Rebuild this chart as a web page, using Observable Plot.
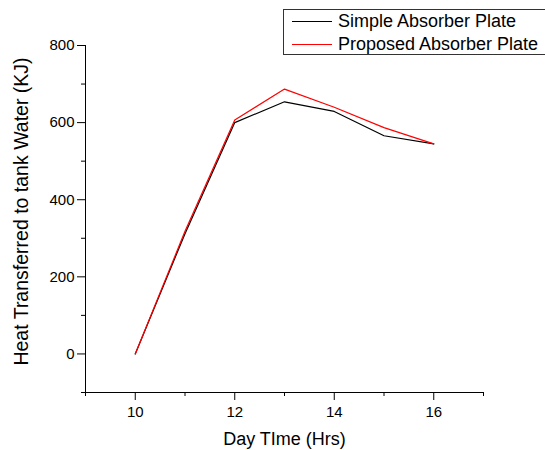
<!DOCTYPE html>
<html><head><meta charset="utf-8">
<script src="https://cdn.jsdelivr.net/npm/d3@7"></script>
<script src="https://cdn.jsdelivr.net/npm/@observablehq/plot@0.6"></script>
<style>
html,body{margin:0;padding:0;background:#fff;overflow:hidden;}
#wrap{position:relative;width:545px;height:450px;font-family:"Liberation Sans",Arial,sans-serif;}
#legend{position:absolute;left:283px;top:9px;width:280px;height:46px;border:1px solid #333;box-sizing:border-box;padding-top:0.5px;background:#fff;}
.row{display:flex;align-items:center;height:22.6px;font-size:18px;color:#000;}
.sw{display:inline-block;width:40px;height:1.2px;margin-left:8px;margin-right:6px;}
</style>
</head><body>
<div id="wrap"><div id="chart"></div><div id="legend"></div></div>
<script>
const hours = [10, 11, 12, 13, 14, 15, 16];
const simple = [0, 312, 600, 654, 629, 566, 545];
const proposed = [0, 318, 607, 687, 640, 587, 545];
const seriesNames = ["Simple Absorber Plate", "Proposed Absorber Plate"];
const seriesColors = ["#000000", "#ff0000"];
const xMajor = [10, 12, 14, 16];
const xMinor = [9, 11, 13, 15, 17];
const yMajor = [0, 200, 400, 600, 800];
const yMinor = [-100, 100, 300, 500, 700];
const xLabel = "Day TIme (Hrs)";
const yLabel = "Heat Transferred to tank Water (KJ)";

const data = [];
hours.forEach((h, i) => {
  data.push({hour: h, value: simple[i], series: seriesNames[0]});
});
hours.forEach((h, i) => {
  data.push({hour: h, value: proposed[i], series: seriesNames[1]});
});

const chart = Plot.plot({
  width: 545,
  height: 450,
  marginLeft: 85,
  marginRight: 62,
  marginTop: 45,
  marginBottom: 58,
  style: {fontFamily: '"Liberation Sans", Arial, sans-serif', fontSize: "15px", color: "#000", background: "#fff"},
  x: {domain: [9, 17], axis: null},
  y: {domain: [-100, 800], axis: null},
  color: {domain: seriesNames, range: seriesColors},
  marks: [
    Plot.axisX({ticks: xMajor, tickSize: 8, tickPadding: 6, label: null, fontSize: 15, stroke: "#000"}),
    Plot.axisX({ticks: xMinor, tickSize: 4, tickFormat: () => "", label: null, stroke: "#000"}),
    Plot.axisY({ticks: yMajor, tickSize: 8, tickPadding: 3, label: null, fontSize: 15, stroke: "#000"}),
    Plot.axisY({ticks: yMinor, tickSize: 4, tickFormat: () => "", label: null, stroke: "#000"}),
    Plot.frame({anchor: "left", stroke: "#000"}),
    Plot.frame({anchor: "bottom", stroke: "#000"}),
    Plot.line(data, {x: "hour", y: "value", z: "series", stroke: "series", strokeWidth: 1.2}),
    Plot.text([xLabel], {frameAnchor: "bottom", textAnchor: "middle", lineAnchor: "top", dy: 40, fontSize: 18, fill: "#000"}),
    Plot.text([yLabel], {frameAnchor: "left", textAnchor: "middle", lineAnchor: "middle", rotate: -90, dx: -64, dy: -7.5, fontSize: 19.5, fill: "#000"})
  ]
});
document.getElementById("chart").appendChild(chart);

const legend = document.getElementById("legend");
seriesNames.forEach((name, i) => {
  const row = document.createElement("div");
  row.className = "row";
  const sw = document.createElement("span");
  sw.className = "sw";
  sw.style.background = seriesColors[i];
  const t = document.createElement("span");
  t.textContent = name;
  row.appendChild(sw);
  row.appendChild(t);
  legend.appendChild(row);
});
</script>
</body></html>
